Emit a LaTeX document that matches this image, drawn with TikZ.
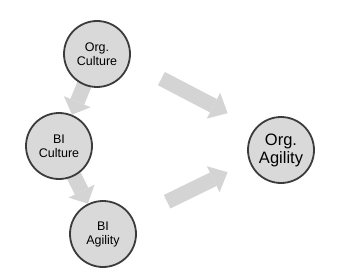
\documentclass[tikz,border=0pt]{standalone}
\usepackage{fontspec}
\setmainfont{Liberation Sans}
\usetikzlibrary{arrows.meta, calc, backgrounds}
\definecolor{nodegray}{RGB}{217, 217, 217}
\definecolor{rimgray}{RGB}{60, 60, 60}
\definecolor{flowgray}{RGB}{212, 212, 212}

\tikzset{
    factor/.style={circle, draw=rimgray, fill=nodegray, line width=1.8pt,
        minimum size=66pt, inner sep=0pt, align=center,
        font=\fontsize{12.5}{14}\selectfont},
    flow/.style={draw=flowgray, line width=15pt,
        -{Triangle[width=29pt, length=14pt, line width=0pt]}}
}

\begin{document}
\begin{tikzpicture}[x=1pt, y=1pt]
        \useasboundingbox (0,0) rectangle (340,279);

        % factors
        \node[factor] (orgcult) at (97,225) {Org.\\Culture};
        \node[factor] (bicult) at (59,133) {BI\\Culture};
        \node[factor] (biagil) at (103,45) {BI\\Agility};
        \node[factor, font=\fontsize{16.5}{18}\selectfont] (orgagil) at (281,129) {Org.\\Agility};

        % block arrows behind the circles
        \begin{scope}[on background layer]
            \draw[flow, shorten <=-8pt] (orgcult) -- (bicult);
            \draw[flow, shorten <=-8pt] (bicult) -- (biagil);
            \draw[flow, -{Triangle[width=29pt, length=16pt, line width=0pt]}]
                ($(orgcult)!0.35!(orgagil)+(0,9)$) -- ($(orgcult)!0.71!(orgagil)+(0,9)$);
            \draw[flow, -{Triangle[width=29pt, length=16pt, line width=0pt]}]
                ($(biagil)!0.36!(orgagil)+(0,2)$) -- ($(biagil)!0.70!(orgagil)+(0,3)$);
        \end{scope}
    \end{tikzpicture}
\end{document}
